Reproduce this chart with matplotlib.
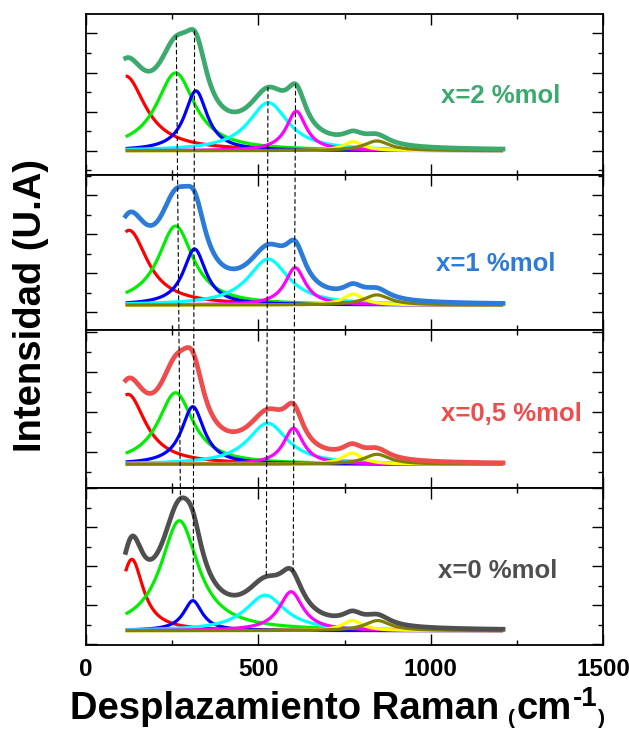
import numpy as np
import matplotlib
matplotlib.use("Agg")
import matplotlib.pyplot as plt
from matplotlib.ticker import MultipleLocator, NullFormatter
from matplotlib.patches import ConnectionPatch
from matplotlib.transforms import IdentityTransform

# ---------------- data ----------------
# Raman shift range covered by the fitted curves (cm-1)
shift_start, shift_end = 115, 1210

panel_labels = ["x=2 %mol", "x=1 %mol", "x=0,5 %mol", "x=0 %mol"]
sum_colors = ["#3CAA6E", "#2D7BD8", "#EE4D4D", "#4F4F4F"]
band_colors = ["#FF0000", "#00EE00", "#0000FF", "#00FFFF", "#FF00FF", "#FFFF00", "#808000"]

# Lorentzian bands: centre (cm-1), height (a.u.), half width (cm-1)
centers_2 = [115, 260, 319, 529, 610, 775, 844]
heights_2 = [1.91, 1.99, 1.53, 1.23, 1.01, 0.23, 0.25]
widths_2 = [70, 68, 40, 70, 35, 35, 45]

centers_1 = [125, 260, 315, 529, 607, 775, 844]
heights_1 = [1.92, 2.03, 1.44, 1.18, 0.96, 0.28, 0.26]
widths_1 = [65, 62, 40, 72, 36, 35, 45]

centers_05 = [122, 260, 310, 527, 602, 772, 844]
heights_05 = [1.75, 1.79, 1.44, 1.03, 0.90, 0.28, 0.25]
widths_05 = [62, 62, 40, 70, 35, 35, 45]

centers_0 = [133, 271, 310, 520, 595, 773, 846]
heights_0 = [1.83, 2.82, 0.77, 0.91, 1.00, 0.26, 0.26]
widths_0 = [40, 66, 33, 70, 42, 35, 45]

# guide lines (cm-1) at top panel and bottom panel
guide_top_x = [262, 315, 528, 608]
guide_bottom_x = [274, 311, 523, 601]

panels = [
    (centers_2, heights_2, widths_2),
    (centers_1, heights_1, widths_1),
    (centers_05, heights_05, widths_05),
    (centers_0, heights_0, widths_0),
]

# ---------------- layout ----------------
plt.rcParams["font.family"] = ["Liberation Sans", "DejaVu Sans"]
plt.rcParams["font.weight"] = "bold"

W, H = 629, 729
fig = plt.figure(figsize=(W / 100, H / 100), dpi=100)

left_px, right_px = 86, 603
tops_px = [14, 175, 330, 488]
bottoms_px = [175, 330, 488, 645]
ylims = [(-0.621, 3.496), (-0.643, 3.342), (-0.593, 3.358), (-0.367, 3.659)]
tick_offsets = [0.0, 0.82, 0.30, 0.65]
label_pos = [(1030, 1.21), (1015, 0.88), (1030, 1.08), (1021, 1.34)]

xs = np.linspace(shift_start, shift_end, 1200)


def band(x, c, h, w):
    return h / (1.0 + ((x - c) / w) ** 2)


def total(x, p):
    return sum(band(x, c, h, w) for c, h, w in zip(*p))


axes = []
for i, p in enumerate(panels):
    ax = fig.add_axes([left_px / W, 1 - bottoms_px[i] / H,
                       (right_px - left_px) / W, (bottoms_px[i] - tops_px[i]) / H])
    axes.append(ax)
    for c, h, w, col in zip(*p, band_colors):
        ax.plot(xs, band(xs, c, h, w), color=col, lw=2.3, solid_capstyle="butt", zorder=2)
    ax.plot(xs, total(xs, p), color=sum_colors[i], lw=3.4, zorder=3)
    ax.text(label_pos[i][0], label_pos[i][1], panel_labels[i], color=sum_colors[i],
            fontsize=18.5, fontweight="bold", ha="left", va="baseline")
    ax.set_xlim(0, 1500)
    ax.set_ylim(*ylims[i])
    ax.xaxis.set_major_locator(MultipleLocator(500))
    ax.xaxis.set_minor_locator(MultipleLocator(250))
    ax.yaxis.set_major_locator(MultipleLocator(1.0, offset=tick_offsets[i]))
    ax.yaxis.set_minor_locator(MultipleLocator(1.0, offset=(tick_offsets[i] + 0.5) % 1.0))
    ax.yaxis.set_major_formatter(NullFormatter())
    ax.tick_params(which="both", direction="in", top=True, right=True, width=1.0, color="black")
    ax.tick_params(which="major", length=7.7)
    ax.tick_params(which="minor", length=3.6)
    ax.tick_params(axis="x", labelsize=17.5, pad=9)
    if i < 3:
        ax.xaxis.set_major_formatter(NullFormatter())
    for s in ax.spines.values():
        s.set_linewidth(1.3)
        s.set_color("black")

# dashed guide lines across the panels
top_p, bot_p = panels[0], panels[3]
for k in range(len(guide_top_x)):
    xa = guide_top_x[k]
    ya = total(xa, top_p)
    xb = guide_bottom_x[k]
    if k == 1:
        yb = band(xb, bot_p[0][2], bot_p[1][2], bot_p[2][2])
    else:
        yb = total(xb, bot_p)
    con = ConnectionPatch(xyA=(xa, ya), coordsA=axes[0].transData,
                          xyB=(xb, yb), coordsB=axes[3].transData,
                          color="black", lw=0.8, linestyle=(0, (3.5, 3)), zorder=5)
    fig.add_artist(con)

# y label
fig.text(31 / W, 1 - 306 / H, "Intensidad (U.A)", rotation=90, ha="center", va="center",
         fontsize=27.5, fontweight="bold")

# x label built from pieces
renderer = fig.canvas.get_renderer()


def piece(x, y, s, size):
    t = fig.text(x, y, s, transform=IdentityTransform(), fontsize=size,
                 fontweight="bold", ha="left", va="baseline")
    return t.get_window_extent(renderer).x1


base = H - 719
e = piece(70, base, "Desplazamiento Raman", 27.5)
e = piece(e + 9, base - 5, "(", 15)
e = piece(e + 1, base, "cm", 27.5)
e = piece(e + 1, base + 13, "-1", 20)
piece(e + 1, base - 5, ")", 15)

fig.savefig("out.png", dpi=100)
